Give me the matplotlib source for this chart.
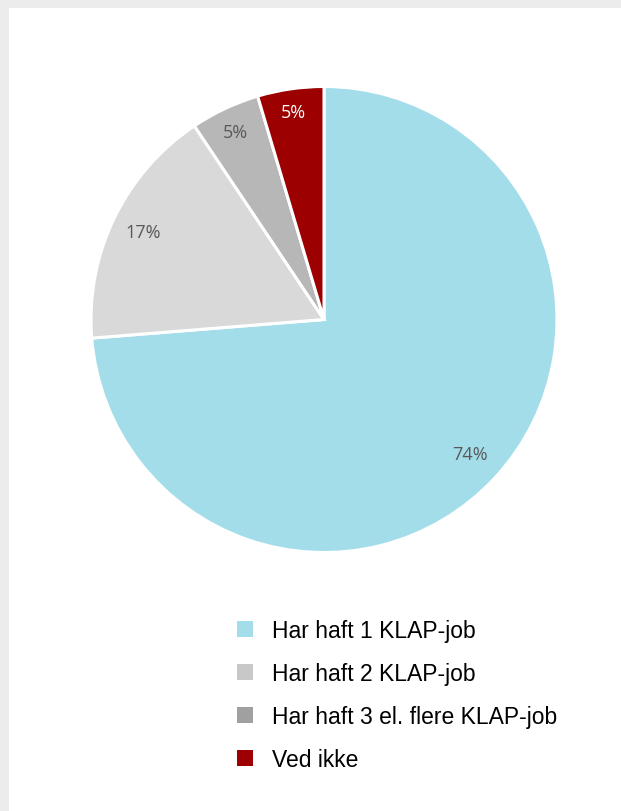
import matplotlib
matplotlib.use("Agg")
import matplotlib.pyplot as plt
from matplotlib.patches import Patch, Rectangle
import numpy as np

categories = ["Har haft 1 KLAP-job", "Har haft 2 KLAP-job", "Har haft 3 el. flere KLAP-job", "Ved ikke"]
values = [73.8, 16.9, 4.8, 4.6]
pie_colors = ["#a3dde9", "#d9d9d9", "#b7b7b7", "#9c0000"]
legend_colors = ["#a3dde9", "#c8c8c8", "#a0a0a0", "#9c0000"]
label_colors = ["#595959", "#595959", "#595959", "#ffffff"]
label_dist = [0.85, 0.86, 0.89, 0.90]

W, H = 621, 812
fig = plt.figure(figsize=(W / 100, H / 100), dpi=100)
fig.patch.set_facecolor("#ececec")
fig.patches.append(Rectangle((9 / W, 0), 1, (H - 9) / H, transform=fig.transFigure,
                             facecolor="white", edgecolor="none", zorder=-5))

cx, cy, r = 324, 320.5, 233
ax = fig.add_axes([(cx - r) / W, (H - cy - r) / H, 2 * r / W, 2 * r / H])
ax.set_axis_off()
wedges, _ = ax.pie(values, colors=pie_colors, startangle=90, counterclock=False,
                   wedgeprops=dict(edgecolor="white", linewidth=2.2))
ax.set_xlim(-1, 1)
ax.set_ylim(-1, 1)
ax.set_aspect("equal")

for w, v, c, d in zip(wedges, values, label_colors, label_dist):
    ang = np.deg2rad((w.theta1 + w.theta2) / 2)
    ax.text(d * np.cos(ang), d * np.sin(ang), f"{v:.0f}%", ha="center", va="center",
            color=c, fontsize=13, family=["Open Sans", "DejaVu Sans"])

handles = [Patch(facecolor=c, edgecolor="none") for c in legend_colors]
fig.legend(handles, categories, loc="upper left", bbox_to_anchor=(237 / W, (H - 620) / H),
           frameon=False, prop={"family": "Liberation Sans", "size": 16.5},
           handlelength=0.7, handleheight=0.7, handletextpad=0.83, labelspacing=0.87,
           borderpad=0, borderaxespad=0)

fig.savefig("out.png", dpi=100, facecolor=fig.get_facecolor())
